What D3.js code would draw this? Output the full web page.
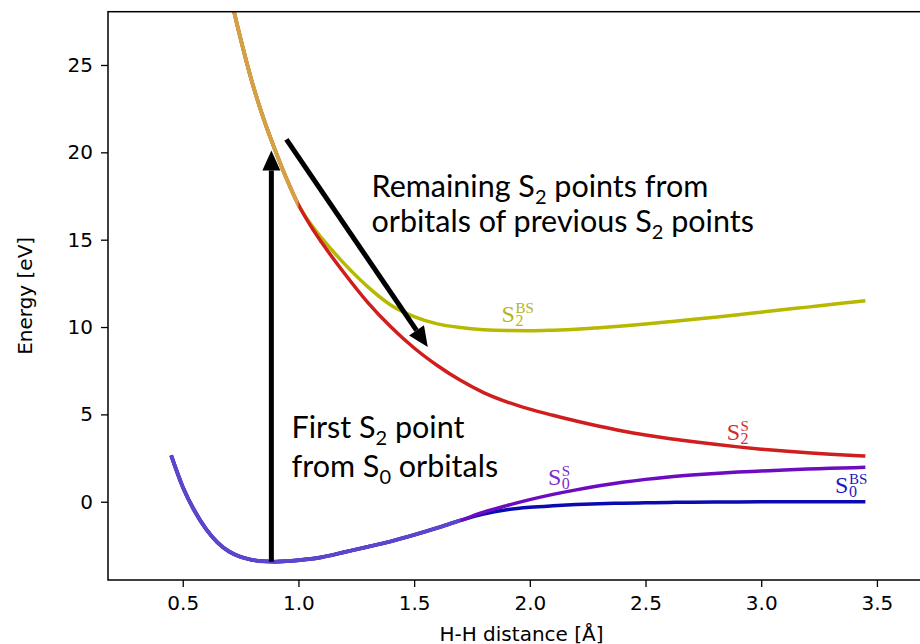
<!DOCTYPE html>
<html>
<head>
<meta charset="utf-8">
<script src="https://cdn.jsdelivr.net/npm/d3@7"></script>
<style>
  body { margin: 0; background: #fff; }
  svg { display: block; }
</style>
</head>
<body>
<div id="chart"></div>
<script>
// H-H distance grid (Å)
var distance = [0.45, 0.5, 0.55, 0.6, 0.65, 0.7, 0.75, 0.8, 0.85, 0.9, 0.95, 1.0, 1.05,
                1.1, 1.2, 1.3, 1.4, 1.5, 1.6, 1.7, 1.8, 1.9, 2.0, 2.1, 2.2, 2.3, 2.4, 2.5,
                2.6, 2.7, 2.8, 2.9, 3.0, 3.1, 3.2, 3.3, 3.4, 3.45];

// energies (eV)
var s0S  = [2.65, 0.85, -0.5, -1.55, -2.33, -2.85, -3.16, -3.33, -3.41, -3.43, -3.4, -3.35, -3.28,
            -3.18, -2.88, -2.58, -2.27, -1.9, -1.5, -1.07, -0.6, -0.22, 0.12, 0.42, 0.68, 0.91,
            1.11, 1.28, 1.42, 1.53, 1.62, 1.7, 1.76, 1.82, 1.87, 1.91, 1.95, 1.97];
var s0BS = [2.65, 0.85, -0.5, -1.55, -2.33, -2.85, -3.16, -3.33, -3.41, -3.43, -3.4, -3.35, -3.28,
            -3.18, -2.88, -2.58, -2.27, -1.9, -1.5, -1.07, -0.7, -0.46, -0.32, -0.23, -0.16, -0.11,
            -0.08, -0.06, -0.04, -0.03, -0.02, -0.01, 0, 0, 0, 0, 0, 0];
var s2S  = [49, 44, 39.8, 36.0, 32.4, 29.3, 26.5, 24.0, 21.9, 20.1, 18.45, 17.0, 15.85,
            14.85, 13.05, 11.4, 10.0, 8.8, 7.8, 6.95, 6.25, 5.72, 5.3, 4.95, 4.62, 4.32,
            4.05, 3.82, 3.62, 3.45, 3.29, 3.14, 3.01, 2.9, 2.8, 2.72, 2.65, 2.62];
var s2BS = [49, 44, 39.8, 36.0, 32.4, 29.3, 26.5, 24.0, 21.9, 20.1, 18.45, 17.0, 15.95,
            15.1, 13.6, 12.3, 11.25, 10.6, 10.18, 9.97, 9.85, 9.8, 9.79, 9.82, 9.87, 9.96,
            10.06, 10.17, 10.3, 10.43, 10.56, 10.7, 10.85, 11.0, 11.14, 11.29, 11.43, 11.5];

var xTicks = [0.5, 1.0, 1.5, 2.0, 2.5, 3.0, 3.5];
var yTicks = [0, 5, 10, 15, 20, 25];

var width = 920, height = 644,
    plotLeft = 108, plotRight = 935, plotTop = 11.7, plotBottom = 580;

var svg = d3.select('#chart').append('svg')
    .attr('width', width)
    .attr('height', height);

var x = d3.scaleLinear().domain([0.177, 3.751]).range([plotLeft, plotRight]),
    y = d3.scaleLinear().domain([-4.48, 28.05]).range([plotBottom, plotTop]);

var defs = svg.append('defs');
defs.append('clipPath').attr('id', 'plot')
  .append('rect')
    .attr('x', plotLeft).attr('y', plotTop)
    .attr('width', plotRight - plotLeft).attr('height', plotBottom - plotTop);

var plot = svg.append('g').attr('clip-path', 'url(#plot)');

var line = d3.line()
    .x(function(d) { return x(d[0]); })
    .y(function(d) { return y(d[1]); })
    .curve(d3.curveMonotoneX);

// the two states of a pair share points up to where they split
var pairs = [
    {a: s2BS, b: s2S, ca: '#b7b800', cb: '#d01d1d', shared: '#d4a246'},
    {a: s0BS, b: s0S, ca: '#0a0ab2', cb: '#6c0cc0', shared: '#5a47cc'}
];

pairs.forEach(function(p, k) {
    var split = 0;
    while (split + 1 < distance.length && p.a[split + 1] === p.b[split + 1]) split++;
    [[p.a, p.ca], [p.b, p.cb]].forEach(function(s) {
        plot.append('path')
            .attr('d', line(distance.map(function(d, i) { return [d, s[0][i]]; })))
            .attr('fill', 'none')
            .attr('stroke', s[1])
            .attr('stroke-width', 3.5);
    });
    defs.append('clipPath').attr('id', 'shared' + k)
      .append('rect')
        .attr('x', 0).attr('y', 0)
        .attr('width', x(distance[split])).attr('height', height);
    plot.append('g').attr('clip-path', 'url(#shared' + k + ')')
      .append('path')
        .attr('d', line(distance.map(function(d, i) { return [d, p.a[i]]; })))
        .attr('fill', 'none')
        .attr('stroke', p.shared)
        .attr('stroke-width', 3.9);
});

// axes
var xAxis = d3.axisBottom(x).tickValues(xTicks).tickFormat(d3.format('.1f'))
        .tickSizeInner(7).tickSizeOuter(0).tickPadding(9),
    yAxis = d3.axisLeft(y).tickValues(yTicks).tickFormat(d3.format('d'))
        .tickSizeInner(7).tickSizeOuter(0).tickPadding(8);

var gx = svg.append('g').attr('transform', 'translate(0,' + plotBottom + ')').call(xAxis),
    gy = svg.append('g').attr('transform', 'translate(' + plotLeft + ',0)').call(yAxis);

[gx, gy].forEach(function(g) {
    g.select('.domain').remove();
    g.selectAll('line').attr('stroke', '#000').attr('stroke-width', 1.3);
    g.selectAll('text')
        .attr('fill', '#000')
        .style('font-family', 'DejaVu Sans')
        .style('font-size', '20px');
});

svg.append('rect')
    .attr('x', plotLeft).attr('y', plotTop)
    .attr('width', plotRight - plotLeft).attr('height', plotBottom - plotTop)
    .attr('fill', 'none').attr('stroke', '#000').attr('stroke-width', 1.5);

svg.append('text')
    .attr('x', (plotLeft + plotRight) / 2).attr('y', 641)
    .attr('text-anchor', 'middle')
    .style('font-family', 'DejaVu Sans').style('font-size', '20px')
    .text('H-H distance [Å]');

svg.append('text')
    .attr('transform', 'translate(32,' + (plotTop + plotBottom) / 2 + ') rotate(-90)')
    .attr('text-anchor', 'middle')
    .style('font-family', 'DejaVu Sans').style('font-size', '20px')
    .text('Energy [eV]');

// state labels  S^{sup}_{sub}
var stateLabels = [
    {x: 1.878, y: 10.30, sup: 'BS', sub: '2', color: '#b4b520'},
    {x: 2.851, y: 3.53, sup: 'S', sub: '2', color: '#d42a2a'},
    {x: 2.078, y: 0.956, sup: 'S', sub: '0', color: '#7a2ccc'},
    {x: 3.319, y: 0.50, sup: 'BS', sub: '0', color: '#1a1ac0'}
];

stateLabels.forEach(function(l) {
    var g = svg.append('g')
        .attr('fill', l.color)
        .style('font-family', 'Liberation Serif');
    var s = g.append('text')
        .attr('x', x(l.x)).attr('y', y(l.y))
        .style('font-size', '24px')
        .text('S');
    var w = s.node().getComputedTextLength();
    g.append('text')
        .attr('x', x(l.x) + w + 0.5).attr('y', y(l.y) - 9)
        .style('font-size', '15px')
        .text(l.sup);
    g.append('text')
        .attr('x', x(l.x) + w + 0.5).attr('y', y(l.y) + 4)
        .style('font-size', '16px')
        .text(l.sub);
});

// annotations
var notes = [
    {x: 1.316, y: 17.46, parts: [['Remaining S', ''], ['2', 'sub'], [' points from', '']]},
    {x: 1.316, y: 15.45, parts: [['orbitals of previous S', ''], ['2', 'sub'], [' points', '']]},
    {x: 0.97, y: 3.63, parts: [['First S', ''], ['2', 'sub'], [' point', '']]},
    {x: 0.97, y: 1.43, parts: [['from S', ''], ['0', 'sub'], [' orbitals', '']]}
];

notes.forEach(function(n) {
    var t = svg.append('text')
        .attr('x', x(n.x)).attr('y', y(n.y))
        .attr('fill', '#000')
        .style('font-family', 'Lato')
        .style('font-size', '30.5px');
    n.parts.forEach(function(p) {
        var ts = t.append('tspan').text(p[0]);
        if (p[1] === 'sub') ts.attr('dy', 7).style('font-size', '20px');
        else if (t.selectAll('tspan').size() > 1) ts.attr('dy', -7);
    });
});

var arrows = [
    {x0: 0.883, y0: -3.43, x1: 0.883, y1: 20.1},
    {x0: 0.948, y0: 20.74, x1: 1.559, y1: 8.86}
];

arrows.forEach(function(a) {
    var px0 = x(a.x0), py0 = y(a.y0), px1 = x(a.x1), py1 = y(a.y1),
        dx = px1 - px0, dy = py1 - py0, len = Math.sqrt(dx * dx + dy * dy),
        ux = dx / len, uy = dy / len, head = 20, half = 9,
        bx = px1 - ux * head, by = py1 - uy * head;
    svg.append('line')
        .attr('x1', px0).attr('y1', py0).attr('x2', bx).attr('y2', by)
        .attr('stroke', '#000').attr('stroke-width', 5);
    svg.append('path')
        .attr('d', 'M' + px1 + ',' + py1 +
                   'L' + (bx - uy * half) + ',' + (by + ux * half) +
                   'L' + (bx + uy * half) + ',' + (by - ux * half) + 'Z')
        .attr('fill', '#000');
});
</script>
</body>
</html>
